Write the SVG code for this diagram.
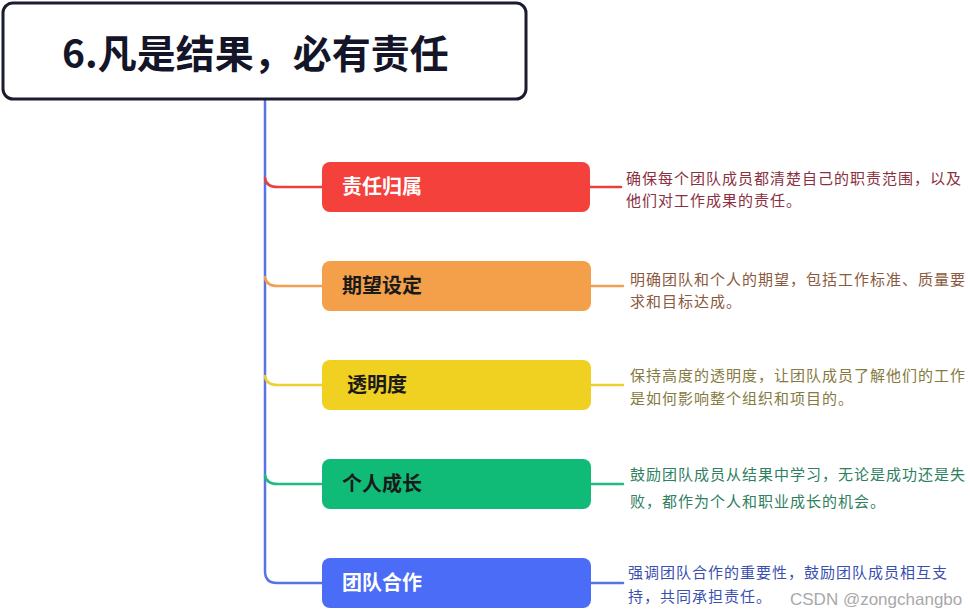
<svg xmlns="http://www.w3.org/2000/svg" width="970" height="616" viewBox="0 0 970 616">
<style>
.cjk{font-family:"Noto Sans CJK SC","Noto Sans",sans-serif}
.lbl{font-size:20px;font-weight:bold}
.desc{font-size:15px;letter-spacing:1px}
.br{fill:none;stroke-width:2.5;stroke-linecap:round}
</style>
<rect width="970" height="616" fill="#ffffff"/>
<g id="connectors">
<path class="br" d="M265,99 L265,571 Q265,583 277,583 L322,583" stroke="#5674e8"/>
<path class="br" d="M265,178 Q266,187 278,187 L322,187" stroke="#e8403c"/>
<path class="br" d="M265,277 Q266,286 278,286 L322,286" stroke="#f0a050"/>
<path class="br" d="M265,376 Q266,385 278,385 L322,385" stroke="#ecd030"/>
<path class="br" d="M265,475 Q266,484 278,484 L322,484" stroke="#1fbb80"/>
<path class="br" d="M590,187 L621,187" stroke="#e8403c"/>
<path class="br" d="M591,286 L623,286" stroke="#f0a050"/>
<path class="br" d="M591,385 L623,385" stroke="#ecd030"/>
<path class="br" d="M591,484 L623,484" stroke="#1fbb80"/>
<path class="br" d="M591,583 L623,583" stroke="#5674e8"/>
</g>
<g id="title">
<rect x="3" y="3" width="523" height="96" rx="10" fill="#ffffff" stroke="#1c1c30" stroke-width="3"/>
<text x="62" y="68" class="cjk" font-size="39" font-weight="bold" fill="#15152a">6.凡是结果，必有责任</text>
</g>
<g id="node1">
<rect x="322" y="162" width="268" height="50" rx="8" fill="#f5413b"/>
<text x="342" y="194" class="cjk lbl" fill="#ffffff">责任归属</text>
</g>
<g id="node2">
<rect x="322" y="261" width="269" height="50" rx="8" fill="#f4a04a"/>
<text x="342" y="293" class="cjk lbl" fill="#1a1a1a">期望设定</text>
</g>
<g id="node3">
<rect x="322" y="360" width="269" height="50" rx="8" fill="#f0d020"/>
<text x="347" y="392" class="cjk lbl" fill="#1a1a1a">透明度</text>
</g>
<g id="node4">
<rect x="322" y="459" width="269" height="50" rx="8" fill="#10bb78"/>
<text x="342" y="491" class="cjk lbl" fill="#1a1a1a">个人成长</text>
</g>
<g id="node5">
<rect x="322" y="558" width="269" height="50" rx="8" fill="#4a6cf7"/>
<text x="342" y="590" class="cjk lbl" fill="#ffffff">团队合作</text>
</g>
<g id="desc1">
<text class="cjk desc" fill="#8a3040"><tspan x="626" y="184">确保每个团队成员都清楚自己的职责范围，以及</tspan><tspan x="626" y="206">他们对工作成果的责任。</tspan></text>
</g>
<g id="desc2">
<text class="cjk desc" fill="#8a5a40"><tspan x="630" y="285">明确团队和个人的期望，包括工作标准、质量要</tspan><tspan x="630" y="307">求和目标达成。</tspan></text>
</g>
<g id="desc3">
<text class="cjk desc" fill="#857a40"><tspan x="630" y="381">保持高度的透明度，让团队成员了解他们的工作</tspan><tspan x="630" y="404">是如何影响整个组织和项目的。</tspan></text>
</g>
<g id="desc4">
<text class="cjk desc" fill="#2e8060"><tspan x="630" y="480">鼓励团队成员从结果中学习，无论是成功还是失</tspan><tspan x="630" y="507">败，都作为个人和职业成长的机会。</tspan></text>
</g>
<g id="desc5">
<text class="cjk desc" fill="#3a50b0"><tspan x="628" y="578">强调团队合作的重要性，鼓励团队成员相互支</tspan><tspan x="628" y="602">持，共同承担责任。</tspan></text>
</g>
<text x="790" y="605" font-family="Liberation Sans,Arial,sans-serif" font-size="17" fill="#a8a8a8">CSDN @zongchangbo</text>
</svg>
